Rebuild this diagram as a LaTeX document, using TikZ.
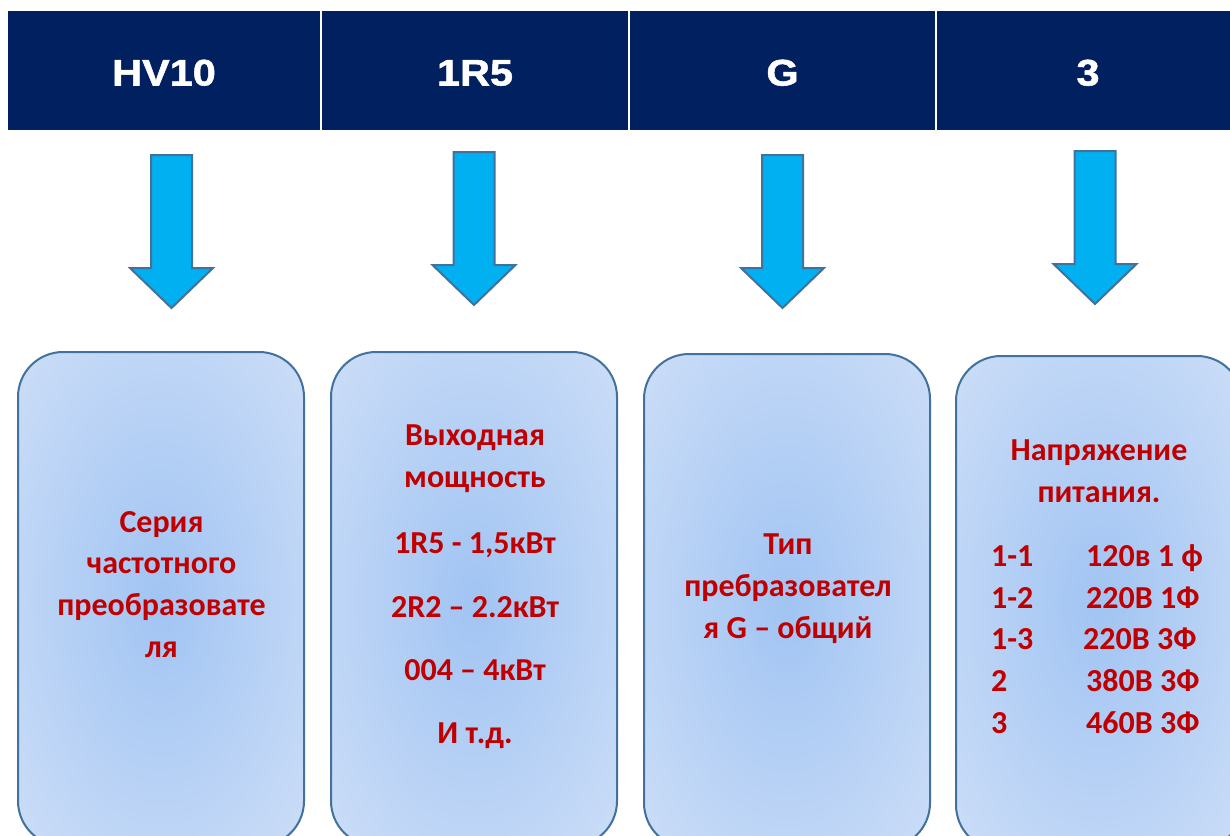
\documentclass[tikz,border=0pt]{standalone}
\usepackage{fontspec}
\setmainfont{Carlito}
\newfontfamily\headfont[FakeStretch=1.12, FakeBold=1.4]{Liberation Sans Bold}
\usetikzlibrary{positioning}

\definecolor{headnavy}{HTML}{002060}
\definecolor{arrowblue}{HTML}{00B0F0}
\definecolor{edgeblue}{HTML}{41719C}
\definecolor{labelred}{HTML}{C00000}
\definecolor{glowin}{HTML}{A1C4F3}
\definecolor{glowout}{HTML}{DDE8F9}
\pgfdeclareradialshading{boxglow}{\pgfpoint{0bp}{0bp}}{color(0bp)=(glowin); color(50bp)=(glowout)}

\tikzset{
    codecell/.style={fill=headnavy, text=white, inner sep=0pt, outer sep=0pt, minimum height=119pt, text height=30pt, text depth=0pt, font=\headfont\fontsize{37}{40}\selectfont}, % dark cells on top
    downarrow/.pic={\draw[edgeblue, fill=arrowblue, line width=2pt, line join=miter] (-20.5,0) -- (20.5,0) -- (20.5,113) -- (41.5,113) -- (0,153) -- (-41.5,113) -- (-20.5,113) -- cycle;}, % the blue block arrows
    infobox/.style={draw=edgeblue, line width=2pt, rounded corners=45pt, shade, shading=boxglow, minimum width=286pt, minimum height=494pt}, % rounded boxes below
    infotext/.style={text=labelred, align=center, inner sep=0pt, anchor=north, font=\bfseries\fontsize{32}{41.7}\selectfont}, % red text inside the boxes
}

\begin{document}
\begin{tikzpicture}[x=1pt, y=-1pt]

\useasboundingbox (0,0) rectangle (1230,835);
\fill[white] (0,0) rectangle (1230,835);

% code parts
\node[codecell, minimum width=312pt] (h1) at (164,70.5) {HV10};
\node[codecell, minimum width=306pt, right=2pt of h1] (h2) {1R5};
\node[codecell, minimum width=305pt, right=2pt of h2] (h3) {G};
\node[codecell, minimum width=302pt, right=2pt of h3] (h4) {3};

% arrows
\pic (a1) at (171.5,155) {downarrow};
\pic (a2) at (474,152) {downarrow};
\pic (a3) at (782.5,155) {downarrow};
\pic (a4) at (1095,151) {downarrow};

% boxes
\node[infobox] (b1) at (161,599) {};
\node[infobox] (b2) at (474,599) {};
\node[infobox] (b3) at (787,601) {};
\node[infobox] (b4) at (1099,603) {};

\node[infotext] (t1) at (161.5,511) {Серия\\частотного\\преобразовате\\ля};
\node[infotext] (t2) at (475,425) {Выходная\\мощность\\[24.5pt]1R5 - 1,5кВт\\[21.5pt]2R2 – 2.2кВт\\[21.5pt]004 – 4кВт\\[21.5pt]И т.д.};
\node[infotext] (t3) at (788,534) {Тип\\пребразовател\\я G – общий};
\node[infotext] (t4) at (1099,440) {Напряжение\\питания.};
\node[infotext, anchor=north west, align=left] (t5) at (991,537) {%
  \begin{tabular}{@{}p{95pt}@{}l@{}}
  1-1 & 120в 1 ф\\
  1-2 & 220В 1Ф\\
  1-3 & \hspace{-3pt}220В 3Ф\\
  2 & 380В 3Ф\\
  3 & 460В 3Ф
  \end{tabular}};

\end{tikzpicture}
\end{document}
